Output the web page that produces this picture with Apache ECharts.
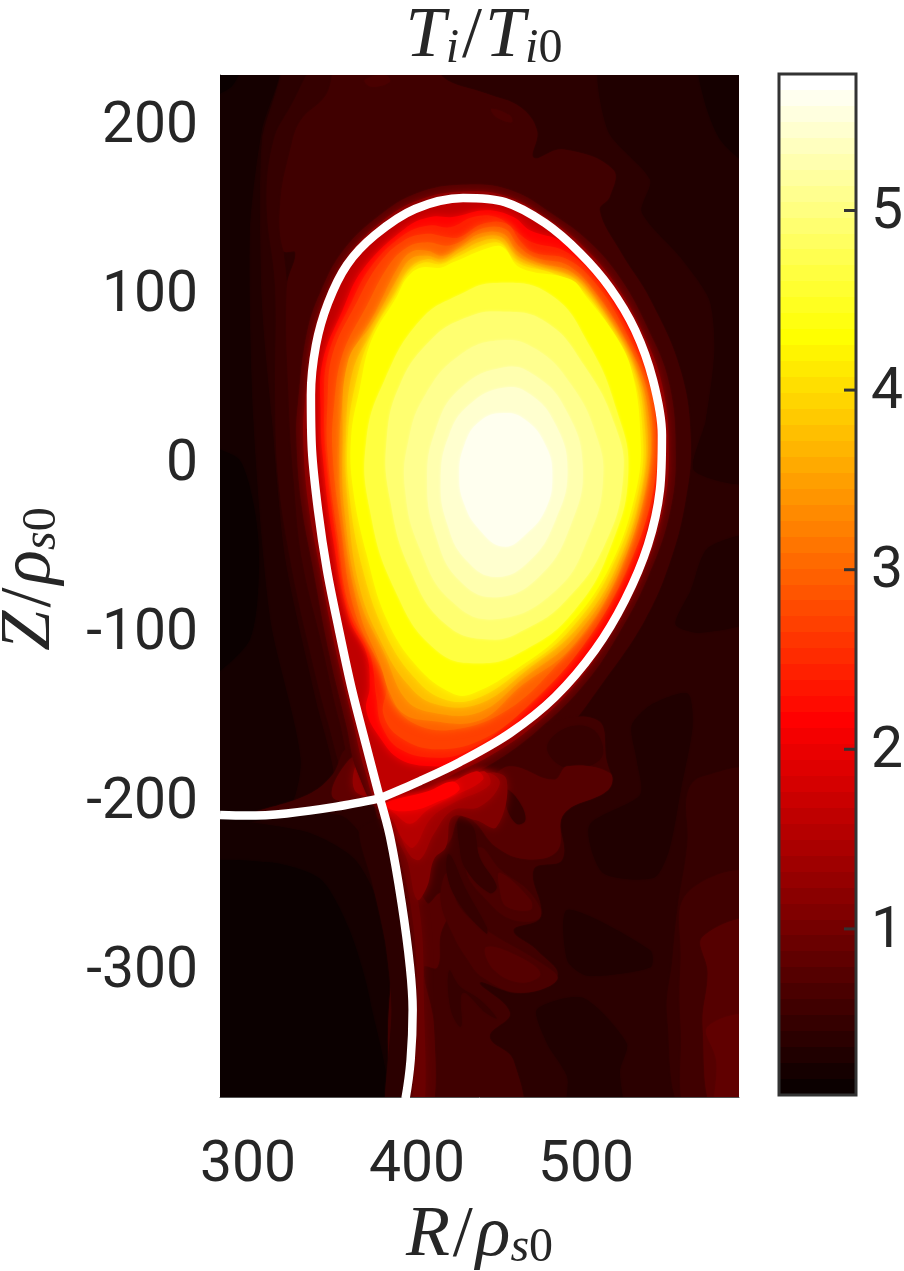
<!DOCTYPE html>
<html><head><meta charset="utf-8">
<style>html,body{margin:0;padding:0;background:#fff}#c{width:904px;height:1271px}</style>
<script src="https://cdn.jsdelivr.net/npm/echarts@6/dist/echarts.min.js"></script>
</head><body><div id="c"></div>
<script>
const rTicks=[300,400,500];
const zTicks=[-300,-200,-100,0,100,200];
const barTicks=[1,2,3,4,5];
const rRange=[283.4,590.5];
const zRange=[-375.7,229];
const barRange=[0.075,5.76];
const barLevelCount=64;

// separatrix (R, Z)
const sepLoop=[[378,-199],[369.8,-167.4],[361.5,-134.9],[353.8,-99.4],[346.7,-63.9],[341.4,-28.4],[337.8,7.1],[337.2,39.6],[340.2,69.2],[347.3,94.1],[358.5,116.6],[375.1,134.3],[398.8,149.7],[427.2,156.2],[452,153.8],[475.7,141.4],[496.4,123.7],[514.2,103],[529,78.1],[539.6,48.5],[544.9,16],[543.7,-16.6],[536.6,-49.1],[523,-81.7],[505.3,-111.2],[481.6,-139],[455,-160.4],[425.4,-177.5],[401.7,-188.8],[378,-199]];
const sepLeftLeg=[[378,-199],[352.4,-203.9],[322.8,-207.9],[299.2,-209.2],[283.4,-208.8]];
const sepLowerLeg=[[378,-199],[384,-221.7],[390.9,-261.1],[395.8,-298.6],[397.4,-324.2],[396.2,-353.8],[393.2,-376.5]];

// temperature contours, lowest first: [level, ring of (R,Z)]
const backgroundRing=[[270,240],[600,240],[600,-390],[270,-390]];
const leftL3=[[270,240],[319,240],[308,190],[308,96],[314,25],[322,-58],[340,-141],[351,-188],[343,-205],[270,-210]];
const lowerLeftL3=[[270,-212],[354,-209],[372,-230],[384,-289],[392,-390],[270,-390]];
const topRightL3=[[510,240],[513,196],[538,167],[533,148],[556,121],[573,96],[576,66],[571,25],[564,-5],[600,-10],[600,240]];
const leftDark=[[270,240],[319,240],[308,196],[301,137],[303,25],[313,-93],[331,-176],[322,-207],[270,-209]];
const lowerLeftDark=[[270,-218],[331,-218],[363,-235],[381,-271],[388,-318],[390,-390],[270,-390]];
const topRightDark=[[567,240],[600,240],[600,175],[580,190],[570,214]];
const leftBlack=[[270,7],[295,1],[306,-46],[301,-105],[270,-129]];
const cornerBlack=[[270,240],[297,240],[290,222],[270,215]];
const lowerLeftBlack=[[270,-241],[313,-237],[343,-247],[360,-277],[372,-318],[380,-390],[270,-390]];
const blobA=[[538,-144],[560,-137],[563,-156],[556,-194],[549,-230],[540,-246],[510,-243],[502,-215],[532,-197],[530,-176],[527,-156]];
const blobB=[[600,-44],[572,-51],[562,-76],[553,-96],[567,-101],[600,-92]];
const blobC=[[489,-265],[538,-289],[538,-299],[501,-304],[489,-295]];
const blobD=[[471,-324],[498,-317],[524,-344],[520,-360],[521,-390],[489,-390],[489,-364],[477,-344]];
const right5=[[560,-196],[569,-186],[600,-186],[600,-390],[560,-390],[548,-328],[551,-295],[554,-265],[560,-225]];
const right6=[[560,-255],[600,-247],[600,-390],[562,-390],[556,-334],[556,-295]];
const right8=[[569,-281],[600,-274],[600,-390],[577,-390],[569,-334],[572,-302]];
const right9=[[572,-334],[600,-330],[600,-390],[578,-390],[577,-354]];
const plumeEdge=[[343,240],[356,240],[346,217],[331,202],[325,185],[319,153],[321,125],[323,104],[324,37],[327,-11],[332,-58],[343,-105],[354,-153],[366,-194],[360,-195],[347,-153],[335,-105],[325,-58],[318,-11],[316,37],[316,104],[311,153],[315,190],[325,210]];
const plume=[[356,240],[415,240],[415,228],[441,218],[461,210],[471,196],[469,180],[486,185],[516,173],[514,157],[508,149],[520,125],[538,96],[556,54],[562,13],[559,-22],[550,-58],[535,-93],[511,-129],[485,-162],[452,-188],[414,-200],[381,-203],[366,-194],[354,-153],[343,-105],[332,-58],[327,-11],[324,37],[323,104],[328,124],[321,125],[319,153],[325,185],[331,202],[346,217]];
const spotA=[[369,226],[381,229],[384,225],[373,222]];
const spotB=[[444,209],[455,205],[456,201],[447,204]];
const lowerEnvelope=[[478,-155],[507,-153],[512,-176],[514,-192],[486,-206],[486,-235],[469,-241],[473,-269],[457,-277],[471,-289],[483,-304],[461,-314],[437,-308],[455,-326],[443,-340],[457,-354],[459,-390],[392,-390],[387,-235],[378,-199]];
const swirlDark=[[477,-169],[489,-157],[505,-159],[509,-175],[489,-181]];
const turbulent=[[381,-203],[441,-188],[455,-180],[481,-188],[489,-180],[514,-184],[513,-194],[487,-208],[483,-230],[465,-235],[447,-228],[433,-212],[425,-210],[418,-226],[406,-228],[396,-234],[406,-261],[414,-255],[421,-261],[414,-279],[412,-299],[404,-299],[410,-334],[408,-390],[396,-390],[399,-314],[394,-261]];
const finger1=[[418,-243],[425,-263],[441,-277],[471,-295],[483,-306],[461,-314],[439,-305],[429,-293],[421,-279],[414,-259]];
const finger2=[[437,-228],[449,-241],[467,-255],[473,-269],[457,-271],[441,-259],[429,-241]];
const finger3=[[441,-287],[461,-293],[473,-303],[461,-308],[445,-300]];
const finger4=[[449,-243],[467,-259],[467,-265],[453,-263],[449,-253]];
const streak1=[[425,-210],[433,-216],[437,-234],[447,-251],[443,-255],[429,-241],[425,-226]];
const streak2=[[453,-194],[461,-202],[464,-212],[459,-214],[453,-204]];
const streak3=[[419,-232],[429,-253],[441,-275],[441,-279],[425,-261],[418,-245]];
const streak4=[[419,-301],[425,-310],[437,-318],[447,-329],[441,-326],[427,-314],[426,-334],[420,-324]];
const legGlow=[[386,-206],[394,-232],[402,-269],[404,-314],[404,-390],[398,-390],[400,-314],[396,-261],[384,-210]];
const legLeft=[[380,-212],[388,-247],[392,-289],[395,-324],[392,-390],[381,-390],[385,-324],[381,-283],[373,-247],[366,-218]];
const wedge6=[[303,-208],[345,-205],[368,-200],[366,-176],[358,-170],[350,-185],[335,-197]];
const wedge9=[[350,-198],[370,-198],[370,-176],[360,-176]];
const wedge14=[[363,-194],[375,-197],[371,-176],[365,-176]];
const glowOuter=[[365,-184],[358,-155],[348,-113],[338.5,-63],[331.5,-24],[328.6,15],[329.6,35],[335,77],[343.5,102],[357,126],[378,146],[400,159],[427,164],[455,161],[481,146],[502,130],[520,109],[536,80],[549,47],[553,5],[549.5,-30],[537,-67],[519,-102],[498.5,-132],[471,-159],[445,-178],[425,-188],[405,-198],[380,-207]];
const glowInner=[[369,-182],[362,-153],[352,-112],[342.5,-63],[335.5,-24],[332.6,15],[333.6,35],[339,76],[347,100],[360,123],[380,143],[401,155],[427,160],[454,157],[479,143],[499,127],[517,106],[533,78],[545,46],[549,5],[545.5,-29],[533.5,-65.5],[515.5,-99.5],[495.5,-129.5],[469,-156],[443,-174],[423,-184],[403,-194],[379,-203]];
const spill10=[[381,-203],[441,-184],[453,-188],[447,-216],[435,-212],[421,-210],[417,-228],[410,-235],[406,-251],[400,-259],[394,-235]];
const spill12=[[381,-203],[421,-194],[441,-184],[449,-190],[437,-204],[421,-206],[410,-220],[402,-235],[396,-233],[388,-216]];
const spill16=[[381,-202],[417,-195],[439,-183],[443,-191],[421,-202],[408,-211],[398,-228],[392,-224],[386,-212]];
const spill18=[[381,-202],[412,-194],[435,-183],[439,-188],[419,-199],[406,-206],[396,-214],[387,-208]];
const spill22=[[381,-202],[406,-195],[421,-189],[425,-194],[410,-202],[398,-206],[386,-206]];
const core216=[[394,139],[408,145],[421,145],[441,149],[457,145],[467,137],[485,131],[501,118],[516,98],[528,76],[540,44],[544,15],[540,-21],[526,-70],[501,-113],[471,-145],[447,-164],[425,-178],[409,-180],[390,-176],[378,-163],[370,-147],[372,-133],[370,-113],[360,-93],[350,-44],[344,5],[343,27],[344,59],[356,90],[368,114]];
const core243=[[393,135],[407,140],[420,139],[433,145],[447,145],[458,137],[468,130],[487,125],[504,111],[519,89],[532,63],[540,35],[542,0],[533,-42],[512,-88],[485,-125],[456,-153],[430,-171],[411,-175],[390,-170],[379,-156],[376,-140],[372,-113],[360,-90],[352,-44],[346,5],[345,31],[347,62],[360,92],[373,116]];
const core270=[[392,131],[406,135],[418,133],[425,133],[439,141],[453,141],[461,131],[469,124],[489,120],[507,104],[522,80],[536,50],[541,27],[540,-15],[524,-64],[498,-109],[469,-141],[441,-163],[412,-170],[390,-163],[380,-149],[382,-131],[374,-113],[360,-86],[353,-44],[347,5],[347,35],[350,64],[364,94],[378,118]];
const core296=[[394,127],[406,130],[417,128],[425,130],[438,138],[452,138],[460,128],[470,121],[490,116],[508,97],[524,71],[536,43],[539,10],[532,-30],[510,-85],[480,-123],[453,-147],[424,-158],[401,-156],[386,-143],[380,-125],[363,-88],[355,-39],[350,5],[351,35],[356,64],[370,92],[383,116]];
const core323=[[396,124],[406,125],[415,122],[425,127],[437,135],[451,135],[459,125],[471,118],[492,112],[510,90],[526,62],[536,35],[537,-5],[520,-64],[492,-109],[461,-133],[437,-153],[406,-153],[392,-149],[384,-137],[378,-119],[366,-89],[356,-34],[354,5],[356,35],[362,64],[376,90],[388,114]];
const core350=[[396,120],[406,122],[415,120],[425,126],[438,133],[450,133],[458,123],[472,116],[494,108],[511,86],[527,58],[535,32],[535,-7],[519,-63],[493,-104],[463,-128],[437,-148],[408,-148],[393,-140],[381,-114],[366,-81],[357,-29],[356,10],[359,59],[375,84],[388,108]];
const core376=[[396,115],[406,120],[415,118],[425,124],[439,131],[449,131],[457,121],[473,114],[496,104],[512,82],[528,54],[534,29],[534,-9],[518,-62],[495,-98],[465,-123],[437,-143],[410,-143],[394,-131],[380,-109],[366,-74],[359,-24],[358,15],[362,54],[374,78],[388,102]];
const core403=[[395,112],[404,118],[414,117],[423,121],[441,129],[450,129],[459,118],[482,111],[498,101],[515,78],[527,54],[533,24],[532,-12],[515,-63],[490,-100],[463,-122],[435,-140],[415,-140],[397,-126],[381,-101],[368,-64],[360,-20],[359,15],[364,48],[373,75],[388,100]];
const core430=[[394,109],[402,115],[414,115],[421,118],[443,127],[451,127],[461,115],[491,108],[500,98],[518,74],[527,54],[532,19],[530,-15],[513,-64],[486,-101],[461,-121],[433,-137],[421,-137],[400,-121],[382,-93],[370,-54],[362,-15],[361,15],[366,43],[373,72],[388,98]];
const core465=[[447,106],[479,99],[502,69],[518,31],[525,-5],[515,-49],[493,-88],[464,-111],[437,-119],[411,-111],[387,-76],[372,-28],[370,13],[381,49],[402,84],[425,99]];
const core492=[[449,89],[476,83],[499,57],[517,22],[522,-8],[511,-49],[488,-82],[464,-99],[443,-105],[417,-96],[396,-64],[384,-22],[382,13],[390,46],[408,72],[428,85]];
const core509=[[449,72],[470,67],[491,46],[506,16],[510,-11],[502,-43],[482,-76],[446,-93],[420,-82],[402,-52],[393,-17],[395,13],[405,40],[425,63]];
const core527=[[451,56],[470,51],[488,31],[498,-2],[491,-37],[473,-67],[447,-80],[425,-70],[411,-43],[406,-11],[411,19],[425,43]];
const core545=[[451,44],[467,40],[482,22],[489,-5],[482,-34],[467,-58],[447,-68],[429,-58],[418,-37],[414,-11],[419,16],[431,34]];
const core563=[[451,29],[464,25],[476,10],[480,-8],[476,-28],[464,-43],[451,-50],[437,-40],[428,-25],[425,-8],[428,10],[437,24]];

const contourLevels=[0.39,0.30,0.30,0.30,0.21,0.21,0.21,0.12,0.12,0.12,0.30,0.30,0.30,0.30,0.47,0.56,0.74,0.83,0.47,0.56,0.65,0.65,0.56,0.47,0.74,0.65,0.65,0.74,0.74,0.47,0.47,0.47,0.47,0.92,0.39,0.56,0.83,1.27,0.74,1.18,1.10,1.36,1.54,1.81,2.16,1.63,2.16,2.43,2.70,2.96,3.23,3.50,3.76,4.03,4.30,4.65,4.92,5.09,5.27,5.45,5.63];
const contourRings=[backgroundRing,leftL3,lowerLeftL3,topRightL3,leftDark,lowerLeftDark,topRightDark,leftBlack,cornerBlack,lowerLeftBlack,blobA,blobB,blobC,blobD,right5,right6,right8,right9,plumeEdge,plume,spotA,spotB,lowerEnvelope,swirlDark,turbulent,finger1,finger2,finger3,finger4,streak1,streak2,streak3,streak4,legGlow,legLeft,wedge6,wedge9,wedge14,glowOuter,glowInner,spill10,spill12,spill16,spill18,spill22,sepLoop,core216,core243,core270,core296,core323,core350,core376,core403,core430,core465,core492,core509,core527,core545,core563];

function hotIndex(i){
  const c=x=>Math.round(255*Math.max(0,Math.min(1,x)));
  return `rgb(${c((i+1)/24)},${c((i+1-24)/24)},${c((i+1-48)/16)})`;
}
const step=(barRange[1]-barRange[0])/barLevelCount;
const colourOf=v=>hotIndex(Math.max(0,Math.min(barLevelCount-1,Math.floor((v-barRange[0])/step))));
const barIndex=Array.from({length:barLevelCount},(_,i)=>i);

const tickRich={t:{fontFamily:'Roboto',fontSize:57,color:'#262626',padding:[7,0,0,0]}};
const labelFont={fontFamily:'Roboto',fontSize:57,color:'#262626',rich:tickRich,formatter:v=>'{t|'+v+'}'};
const serif={fontFamily:'Liberation Serif',fontWeight:'normal',color:'#262626',verticalAlign:'bottom'};
const mathRich={
  m:{...serif,fontStyle:'italic',fontSize:72},
  n:{...serif,fontSize:72,padding:[0,3,0,3]},
  s:{...serif,fontStyle:'italic',fontSize:48},
  z:{...serif,fontSize:48}
};
const sepStyle={type:'line',xAxisIndex:0,yAxisIndex:0,showSymbol:false,symbol:'none',smooth:0.33,clip:true,silent:true,z:5,animation:false,lineStyle:{color:'#fff',width:8.5,cap:'butt',join:'round'}};

const option={
  animation:false,
  backgroundColor:'#fff',
  title:{text:'{m|T}{s|i}{n|/}{m|T}{s|i}{z|0}',left:479,top:-4,textAlign:'center',textStyle:{fontWeight:'normal',rich:mathRich}},
  grid:[
    {left:220,top:75,width:519,height:1022,containLabel:false,outerBoundsMode:'none'},
    {left:779,top:74,width:77,height:1021,z:3,outerBoundsMode:'none',show:true,borderColor:'#333',borderWidth:3,backgroundColor:'transparent'}
  ],
  xAxis:[
    {type:'value',gridIndex:0,min:rRange[0],max:rRange[1],splitLine:{show:false},axisTick:{show:false},
     axisLine:{onZero:false,lineStyle:{color:'#555',width:1}},
     axisLabel:{...labelFont,margin:34,customValues:rTicks,hideOverlap:false},
     name:'{m|R}{n|/}{m|ρ}{s|s}{z|0}',nameLocation:'middle',nameGap:102,nameTextStyle:{fontWeight:'normal',rich:mathRich}},
    {type:'value',gridIndex:1,min:0,max:1,show:false}
  ],
  yAxis:[
    {type:'value',gridIndex:0,min:zRange[0],max:zRange[1],splitLine:{show:false},axisTick:{show:false},
     axisLine:{onZero:false,lineStyle:{color:'#555',width:1}},
     axisLabel:{...labelFont,margin:22,customValues:zTicks,hideOverlap:false},
     name:'{m|Z}{n|/}{m|ρ}{s|s}{z|0}',nameLocation:'middle',nameGap:154,nameRotate:90,nameTextStyle:{fontWeight:'normal',padding:[0,0,0,14],rich:mathRich}},
    {type:'value',gridIndex:1,position:'right',min:barRange[0],max:barRange[1],splitLine:{show:false},
     axisLine:{show:false},
     axisTick:{show:false},
     axisLabel:{...labelFont,margin:15,customValues:barTicks,hideOverlap:false}}
  ],
  series:[
    {type:'custom',xAxisIndex:0,yAxisIndex:0,clip:true,silent:true,z:2,progressive:0,animation:false,
     data:contourLevels.map((v,i)=>[i,v]),encode:{x:0,y:1},
     renderItem:function(params,api){
       const i=params.dataIndex, v=contourLevels[i];
       const pts=contourRings[i].map(p=>api.coord(p));
       const col=colourOf(v);
       const blur=v>=2&&v<4.4?8:(v>0.9&&v<2?8:(v<0.9?1.5:3));
       return {type:'polygon',shape:{points:pts,smooth:(v<0.4?0.25:(v>4.4?0.45:0.4))},
         style:{fill:col,stroke:null,shadowBlur:blur,shadowColor:col}};
     }},
    {type:'custom',xAxisIndex:1,yAxisIndex:1,silent:true,z:2,progressive:0,animation:false,clip:true,
     data:barIndex.map(i=>[0,barRange[0]+i*step]),encode:{x:0,y:1},
     renderItem:function(params,api){
       const i=params.dataIndex;
       const a=api.coord([0,barRange[0]+i*step]);
       const b=api.coord([1,barRange[0]+(i+1)*step]);
       const yTop=Math.round(b[1]), yBottom=Math.round(a[1]);
       return {type:'rect',shape:{x:a[0],y:yTop,width:b[0]-a[0],height:yBottom-yTop},style:{fill:hotIndex(i),stroke:null}};
     }},
    {type:'custom',name:'colourbar ticks',xAxisIndex:1,yAxisIndex:1,silent:true,z:4,progressive:0,animation:false,
     data:barTicks.map(t=>[1,t]),encode:{x:0,y:1},
     renderItem:function(params,api){
       const t=barTicks[params.dataIndex];
       const a=api.coord([1,t]);
       return {type:'line',shape:{x1:a[0]-12,y1:a[1],x2:a[0],y2:a[1]},style:{stroke:'#333',lineWidth:3}};
     }},
    {...sepStyle,name:'loop',data:sepLoop},
    {...sepStyle,name:'left leg',data:sepLeftLeg},
    {...sepStyle,name:'lower leg',data:sepLowerLeg}
  ]
};
const chart=echarts.init(document.getElementById('c'),null,{renderer:'canvas'});
chart.setOption(option);
</script></body></html>
